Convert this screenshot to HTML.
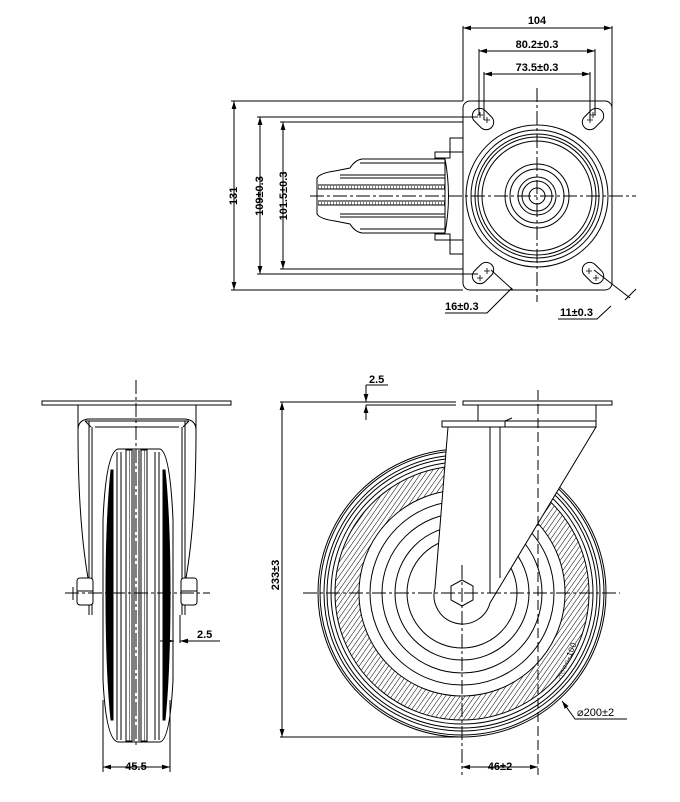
<!DOCTYPE html>
<html><head><meta charset="utf-8"><style>
html,body{margin:0;padding:0;background:#fff;}
svg{display:block;}
text{font-family:"Liberation Sans",sans-serif;font-weight:bold;fill:#000;}
</style></head><body>
<svg width="680" height="802" viewBox="0 0 680 802" xmlns="http://www.w3.org/2000/svg">
<defs>
<marker id="a" viewBox="0 0 10 6" refX="10" refY="3" markerWidth="8" markerHeight="5" orient="auto-start-reverse"><path d="M0,0L10,3L0,6z" fill="#000"/></marker>
<pattern id="h" width="4" height="4" patternUnits="userSpaceOnUse" patternTransform="rotate(35)"><line x1="0" y1="0" x2="0" y2="4" stroke="#000" stroke-width="1"/></pattern>
<pattern id="hv" width="3" height="4" patternUnits="userSpaceOnUse"><line x1="0" y1="0" x2="0" y2="4" stroke="#000" stroke-width="1"/></pattern>
</defs>
<g fill="none" stroke="#000" stroke-width="1">

<!-- ===== TOP VIEW ===== -->
<path d="M317,178 Q320,173 335,171 L350,168 Q355,160 362,159 L445,159 L445,233 L362,233 Q355,232 350,224 L335,221 Q320,219 317,214 Z" fill="#fff"/>
<line x1="318" y1="185" x2="445" y2="185"/><line x1="318" y1="189" x2="445" y2="189"/>
<rect x="318" y="186" width="127" height="3" fill="url(#hv)" stroke="none"/>
<line x1="318" y1="201" x2="445" y2="201"/><line x1="318" y1="205" x2="445" y2="205"/>
<rect x="318" y="202" width="127" height="3" fill="url(#hv)" stroke="none"/>
<line x1="340" y1="175" x2="445" y2="175"/><line x1="340" y1="178" x2="445" y2="178"/>
<line x1="340" y1="214" x2="445" y2="214"/><line x1="340" y1="217" x2="445" y2="217"/>
<line x1="360" y1="163" x2="445" y2="163"/><line x1="360" y1="229" x2="445" y2="229"/>
<path d="M445,159 Q452,196 445,233"/>
<rect x="435" y="152" width="15" height="6"/><rect x="435" y="234" width="15" height="6"/>
<rect x="450" y="138" width="13" height="14"/><rect x="450" y="240" width="13" height="14"/>
<rect x="463" y="101" width="149" height="189" rx="7" fill="#fff"/>
<circle cx="537" cy="196" r="71"/><circle cx="537" cy="196" r="66"/><circle cx="537" cy="196" r="62"/><circle cx="537" cy="196" r="59"/><circle cx="537" cy="196" r="55"/>
<circle cx="537" cy="196" r="32"/><circle cx="537" cy="196" r="27"/><circle cx="537" cy="196" r="19"/><circle cx="537" cy="196" r="15"/><circle cx="537" cy="196" r="8"/>
<g transform="translate(483,119) rotate(45)"><rect x="-12" y="-7.5" width="24" height="15" rx="7.5" fill="#fff"/></g>
<g transform="translate(593,119) rotate(-45)"><rect x="-12" y="-7.5" width="24" height="15" rx="7.5" fill="#fff"/></g>
<g transform="translate(483,273) rotate(-45)"><rect x="-12" y="-7.5" width="24" height="15" rx="7.5" fill="#fff"/></g>
<g transform="translate(593,273) rotate(45)"><rect x="-12" y="-7.5" width="24" height="15" rx="7.5" fill="#fff"/></g>
<g stroke-width="0.8">
<path d="M477,115h6M480,112v6M484,120h6M487,117v6M590,115h6M593,112v6M587,120h6M590,117v6M477,278h6M480,275v6M484,271h6M487,268v6M586,271h6M589,268v6M593,278h6M596,275v6"/>
</g>
<line x1="310" y1="196" x2="636" y2="196" stroke-dasharray="14,3,3,3"/>
<line x1="537" y1="88" x2="537" y2="302" stroke-dasharray="14,3,3,3"/>
<line x1="463" y1="26" x2="463" y2="101"/><line x1="612" y1="26" x2="612" y2="108"/>
<line x1="463" y1="28" x2="612" y2="28" marker-start="url(#a)" marker-end="url(#a)"/>
<line x1="479" y1="49" x2="479" y2="115"/><line x1="595" y1="49" x2="595" y2="115"/>
<line x1="479" y1="51" x2="595" y2="51" marker-start="url(#a)" marker-end="url(#a)"/>
<line x1="484" y1="72" x2="484" y2="120"/><line x1="590" y1="72" x2="590" y2="120"/>
<line x1="484" y1="74" x2="590" y2="74" marker-start="url(#a)" marker-end="url(#a)"/>
<line x1="231" y1="101" x2="463" y2="101"/><line x1="231" y1="290" x2="463" y2="290"/>
<line x1="234" y1="101" x2="234" y2="290" marker-start="url(#a)" marker-end="url(#a)"/>
<line x1="257" y1="117" x2="478" y2="117"/><line x1="257" y1="274" x2="478" y2="274"/>
<line x1="260" y1="117" x2="260" y2="274" marker-start="url(#a)" marker-end="url(#a)"/>
<line x1="280" y1="122" x2="463" y2="122"/><line x1="280" y1="269" x2="463" y2="269"/>
<line x1="283" y1="122" x2="283" y2="269" marker-start="url(#a)" marker-end="url(#a)"/>
<path d="M445,313h42l25,-25"/><line x1="491" y1="270" x2="513" y2="290"/>
<path d="M558,319h39l14,-13"/><line x1="594" y1="270" x2="630" y2="298"/><line x1="625" y1="300" x2="636" y2="289"/>

<!-- ===== FRONT VIEW (right) ===== -->
<circle cx="462" cy="593" r="144"/><circle cx="462" cy="593" r="142"/><circle cx="462" cy="593" r="138"/><circle cx="462" cy="593" r="135"/><circle cx="462" cy="593" r="131"/>
<path d="M462,466a127,127 0 1,0 0.01,0zM462,490a103,103 0 1,1 -0.01,0z" fill="url(#h)" fill-rule="evenodd" stroke="none"/>
<circle cx="462" cy="593" r="127"/><circle cx="462" cy="593" r="103"/>
<circle cx="462" cy="593" r="92"/><circle cx="462" cy="593" r="80"/><circle cx="462" cy="593" r="67"/><circle cx="462" cy="593" r="55"/>
<path d="M448,427 L435,588 A28,28 0 0,0 490,603 L596,427 Z" fill="#fff"/>
<line x1="490" y1="427" x2="490" y2="593"/><line x1="500" y1="427" x2="500" y2="578"/>
<rect x="442" y="421" width="63" height="6" fill="#fff"/>
<line x1="505" y1="421" x2="596" y2="421"/><line x1="596" y1="405" x2="596" y2="427"/><line x1="478" y1="405" x2="478" y2="421"/>
<path d="M505,421l7,-3"/>
<polygon points="462,580 473,586 473,600 462,606 451,600 451,586" fill="#fff"/>
<rect x="463" y="401" width="149" height="4" fill="#fff"/>
<line x1="280" y1="402" x2="456" y2="402"/><line x1="366" y1="405" x2="456" y2="405"/>
<line x1="303" y1="593" x2="620" y2="593" stroke-dasharray="14,3,3,3"/>
<line x1="462" y1="565" x2="462" y2="775" stroke-dasharray="14,3,3,3"/>
<line x1="538" y1="390" x2="538" y2="775" stroke-dasharray="10,4"/>
<line x1="280" y1="737" x2="462" y2="737"/>
<line x1="282" y1="402" x2="282" y2="737" marker-start="url(#a)" marker-end="url(#a)"/>
<line x1="462" y1="767" x2="538" y2="767" marker-start="url(#a)" marker-end="url(#a)"/>
<path d="M366,385v17" marker-end="url(#a)"/><path d="M366,420v-15" marker-end="url(#a)"/><path d="M366,385h22"/>
<path d="M562,701l13,18h52" marker-start="url(#a)"/>

<!-- ===== SIDE VIEW (left) ===== -->
<rect x="42" y="401" width="189" height="4" fill="#fff"/>
<path d="M78,405V430Q78,419 90,419H183Q196,419 196,430V405"/>
<path d="M78,430Q78,520 88,578M196,430Q196,520 186,578"/>
<path d="M85,421h104M95,427h84M85,421l6,6M189,421l-6,6"/>
<line x1="89" y1="421" x2="89" y2="615"/><line x1="92" y1="427" x2="92" y2="615"/>
<line x1="185" y1="421" x2="185" y2="615"/><line x1="182" y1="427" x2="182" y2="615"/>
<path d="M118,449H160Q170,452 173,520L173,680Q170,740 160,742H118Q106,740 103,680L103,520Q106,452 118,449Z" fill="#fff"/>
<path d="M111,470 Q106,520 106,593 Q106,670 111,720 L113,720 L113,470Z" fill="#000"/>
<path d="M165,470 Q170,520 170,593 Q170,670 165,720 L163,720 L163,470Z" fill="#000"/>
<line x1="117" y1="452" x2="117" y2="740"/><line x1="121" y1="452" x2="121" y2="740"/>
<line x1="155" y1="452" x2="155" y2="740"/><line x1="159" y1="452" x2="159" y2="740"/>
<rect x="126" y="450" width="6" height="291" fill="url(#hv)" stroke="#000"/>
<rect x="141" y="450" width="6" height="291" fill="url(#hv)" stroke="#000"/>
<line x1="134" y1="450" x2="134" y2="741"/><line x1="139" y1="450" x2="139" y2="741"/>
<rect x="77" y="578" width="16" height="27" rx="3" fill="#fff"/><rect x="181" y="578" width="16" height="27" rx="3" fill="#fff"/>
<line x1="73" y1="587" x2="73" y2="600"/><line x1="77" y1="591" x2="93" y2="591"/><line x1="181" y1="591" x2="197" y2="591"/>
<line x1="65" y1="593" x2="210" y2="593" stroke-dasharray="14,3,3,3"/>
<line x1="136" y1="380" x2="136" y2="745" stroke-dasharray="14,3,3,3"/>
<line x1="103" y1="700" x2="103" y2="772"/><line x1="170" y1="700" x2="170" y2="772"/>
<line x1="103" y1="767" x2="170" y2="767" marker-start="url(#a)" marker-end="url(#a)"/>
<line x1="180" y1="615" x2="180" y2="643"/>
<path d="M160,641h14" marker-end="url(#a)"/><path d="M220,641h-40" marker-end="url(#a)"/><line x1="193" y1="641" x2="220" y2="641"/>
</g>

<g font-size="11">
<text x="537" y="24" text-anchor="middle">104</text>
<text x="537" y="48" text-anchor="middle">80.2±0.3</text>
<text x="537" y="71" text-anchor="middle">73.5±0.3</text>
<text transform="translate(237,196) rotate(-90)" text-anchor="middle">131</text>
<text transform="translate(263,196) rotate(-90)" text-anchor="middle">109±0.3</text>
<text transform="translate(287,196) rotate(-90)" text-anchor="middle">101.5±0.3</text>
<text x="445" y="310">16±0.3</text>
<text x="560" y="316">11±0.3</text>
<text x="369" y="383">2.5</text>
<text transform="translate(279,575) rotate(-90)" text-anchor="middle">233±3</text>
<text x="500" y="770" text-anchor="middle">46±2</text>
<text x="577" y="716" style="font-weight:normal">⌀200±2</text>
<text x="136" y="770" text-anchor="middle">45.5</text>
<text x="197" y="638">2.5</text>
<text transform="translate(562,680) rotate(-68)" font-size="8" style="font-weight:normal" letter-spacing="0.5">○○○○-100</text>
</g>
</svg>
</body></html>
